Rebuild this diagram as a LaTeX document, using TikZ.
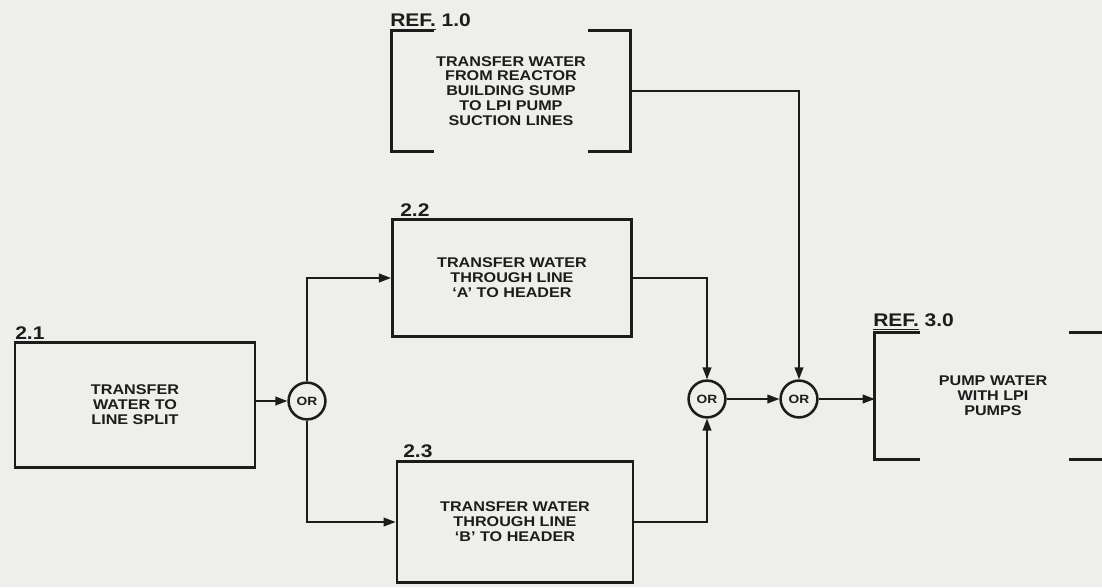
\documentclass[tikz,border=0pt]{standalone}
\usepackage{fontspec}
\setmainfont{Liberation Sans}[FakeStretch=1.15]
\usetikzlibrary{arrows.meta,calc}
\definecolor{paper}{RGB}{238,238,235}
\definecolor{ink}{RGB}{28,28,28}
\tikzset{
  txt/.style={align=center, text=ink, font=\bfseries\fontsize{10}{10.6}\selectfont},
  blk/.style={txt, draw=ink, line width=2pt},
  refblk/.style={txt},
  brk/.style={draw=ink, line width=2pt},
  orgate/.style={circle, draw=ink, text=ink, line width=1.8pt, minimum size=0.92cm, inner sep=0pt, font=\bfseries\fontsize{8.5}{9}\selectfont},
  arr/.style={draw=ink, -{Triangle[length=3mm,width=2.2mm]}, line width=1pt},
  num/.style={anchor=south west, inner sep=0pt, text=ink, font=\bfseries\fontsize{13}{14}\selectfont},
}
\begin{document}
\begin{tikzpicture}[x=0.025cm, y=-0.025cm]
  \fill[paper] (0,0) rectangle (1102,587);
  \useasboundingbox (0,0) rectangle (1102,587);
  \node[refblk, minimum width=5.95cm, minimum height=3cm] (ref1) at (511,91) {TRANSFER WATER\\FROM REACTOR\\BUILDING SUMP\\TO LPI PUMP\\SUCTION LINES};
  \node[blk, minimum width=6cm, minimum height=3.12cm] (b21) at (135,405) {TRANSFER\\WATER TO\\LINE SPLIT};
  \node[blk, minimum width=5.98cm, minimum height=2.93cm] (b22) at (512,278) {TRANSFER WATER\\THROUGH LINE\\`A' TO HEADER};
  \node[blk, minimum width=5.9cm, minimum height=3.03cm] (b23) at (515,522) {TRANSFER WATER\\THROUGH LINE\\`B' TO HEADER};
  \node[refblk, minimum width=5.9cm, minimum height=3.15cm] (ref3) at (993,396) {PUMP WATER\\WITH LPI\\PUMPS};
  \node[orgate] (or1) at (307,401) {OR};
  \node[orgate] (or2) at (707,399) {OR};
  \node[orgate] (or3) at (799,399) {OR};
  \node[num] (l10) at (390,30) {\underline{REF.} 1.0};
  \node[num] (l21) at (15,340) {2.1};
  \node[num] (l22) at (400,217) {2.2};
  \node[num] (l23) at (403,458) {2.3};
  \node[num] (l30) at (873,330) {\underline{REF.} 3.0};
  \draw[brk] ($(ref1.north west)+(42,0)$) -- (ref1.north west) -- (ref1.south west) -- ++(42,0);
  \draw[brk] ($(ref1.north east)+(-42,0)$) -- (ref1.north east) -- (ref1.south east) -- ++(-42,0);
  \draw[brk] ($(ref3.north west)+(45,0)$) -- (ref3.north west) -- (ref3.south west) -- ++(45,0);
  \draw[brk] ($(ref3.north east)+(-42,0)$) -- (ref3.north east) -- (ref3.south east) -- ++(-42,0);
  \draw[arr] (b21.east |- or1) -- (or1);
  \draw[arr] (or1) |- (b22.west);
  \draw[arr] (or1) |- (b23.west);
  \draw[arr] (b22.east) -| (or2);
  \draw[arr] (b23.east) -| (or2);
  \draw[arr] (or2) -- (or3);
  \draw[arr] (ref1.east) -| (or3);
  \draw[arr] (or3) -- (ref3.west |- or3);
\end{tikzpicture}
\end{document}
